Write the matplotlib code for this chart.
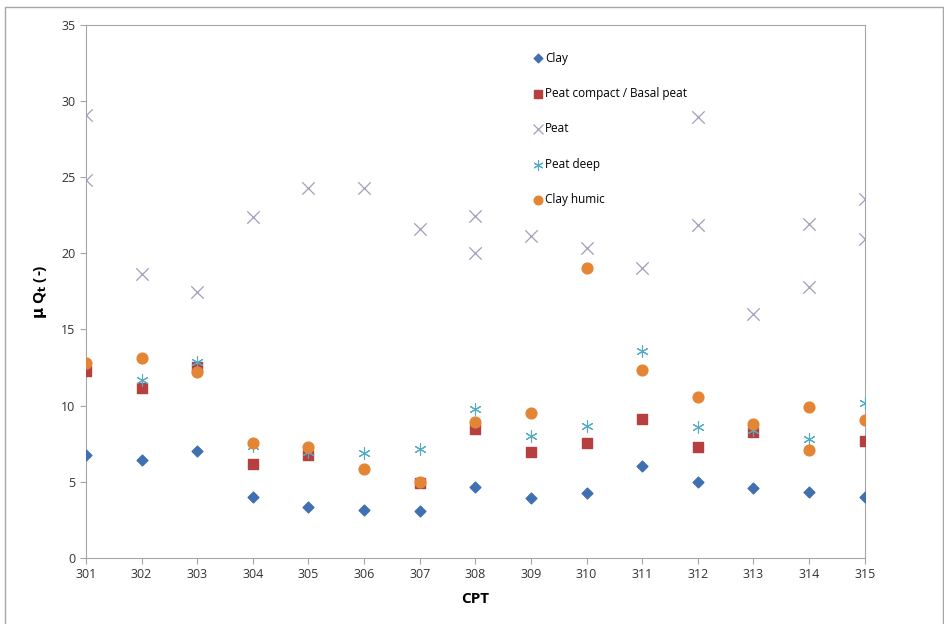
import matplotlib.pyplot as plt
from matplotlib.patches import Rectangle

# CPT numbers and mean Qt values per soil type
cpt = list(range(301, 316))

clay_x = cpt
clay_y = [6.74, 6.43, 7.04, 3.98, 3.37, 3.15, 3.1, 4.64, 3.92, 4.24, 6.04, 4.99, 4.59, 4.33, 4.02]

peat_compact_x = [301, 302, 303, 304, 305, 307, 308, 309, 310, 311, 312, 313, 315]
peat_compact_y = [12.29, 11.13, 12.51, 6.17, 6.74, 4.9, 8.44, 6.98, 7.57, 9.1, 7.3, 8.29, 7.68]

peat_x = [301, 301, 302, 303, 304, 305, 306, 307, 308, 308, 309, 310, 311, 312, 312, 313, 314, 314, 315, 315]
peat_y = [29.07, 24.8, 18.66, 17.43, 22.38, 24.3, 24.3, 21.57, 22.44, 20.03, 21.15, 20.36, 19.05, 28.96, 21.83, 15.99, 21.92, 17.78, 23.58, 20.93]

peat_deep_x = [302, 303, 304, 305, 306, 307, 308, 309, 310, 311, 312, 313, 314, 315]
peat_deep_y = [11.68, 12.84, 7.35, 6.98, 6.91, 7.15, 9.76, 8.0, 8.66, 13.6, 8.57, 8.4, 7.79, 10.19]

clay_humic_x = [301, 302, 303, 304, 305, 306, 307, 308, 309, 310, 311, 312, 313, 314, 314, 315]
clay_humic_y = [12.77, 13.12, 12.18, 7.52, 7.3, 5.82, 5.01, 8.95, 9.54, 19.05, 12.36, 10.57, 8.77, 9.91, 7.09, 9.06]

plt.rcParams['font.family'] = ['Open Sans', 'DejaVu Sans']

fig = plt.figure(figsize=(9.45, 6.24), dpi=100)
ax = fig.add_axes([0.091, 0.106, 0.824, 0.854])

# outer chart border
fig.patches.append(Rectangle((0.005, -0.01), 0.993, 0.999, transform=fig.transFigure,
                             fill=False, edgecolor='#a6a6a6', linewidth=1))

ax.scatter(clay_x, clay_y, marker='D', s=30, color='#4070b0', label='Clay', zorder=3)
ax.scatter(peat_compact_x, peat_compact_y, marker='s', s=60, color='#b5403f',
           label='Peat compact / Basal peat', zorder=3)
ax.scatter(peat_x, peat_y, marker='x', s=80, color='#a09ec0', linewidths=0.9,
           label='Peat', zorder=3)
ax.scatter(peat_deep_x, peat_deep_y, marker=(6, 2, 0), s=70, color='#56abc4',
           linewidths=0.8, label='Peat deep', zorder=3)
ax.scatter(clay_humic_x, clay_humic_y, marker='o', s=60, color='#e48535',
           label='Clay humic', zorder=3)

ax.set_xlim(301, 315)
ax.set_ylim(0, 35)
ax.set_xticks(cpt)
ax.set_yticks(range(0, 36, 5))
ax.tick_params(labelsize=9, colors='#333333', length=4, color='#a6a6a6')
for s in ax.spines.values():
    s.set_color('#a6a6a6')

ax.set_xlabel('CPT', fontsize=11, fontweight='bold', labelpad=8)
ax.set_ylabel(r'$\mathbf{\mu}$ Q$_\mathbf{t}$ (-)', fontsize=11, fontweight='bold', labelpad=9)

ax.legend(loc='upper left', bbox_to_anchor=(0.559, 0.97), frameon=False, fontsize=8.5,
          handletextpad=0.1, labelspacing=1.9, markerscale=0.8, handlelength=1.0)

fig.savefig('out.png', dpi=100)
